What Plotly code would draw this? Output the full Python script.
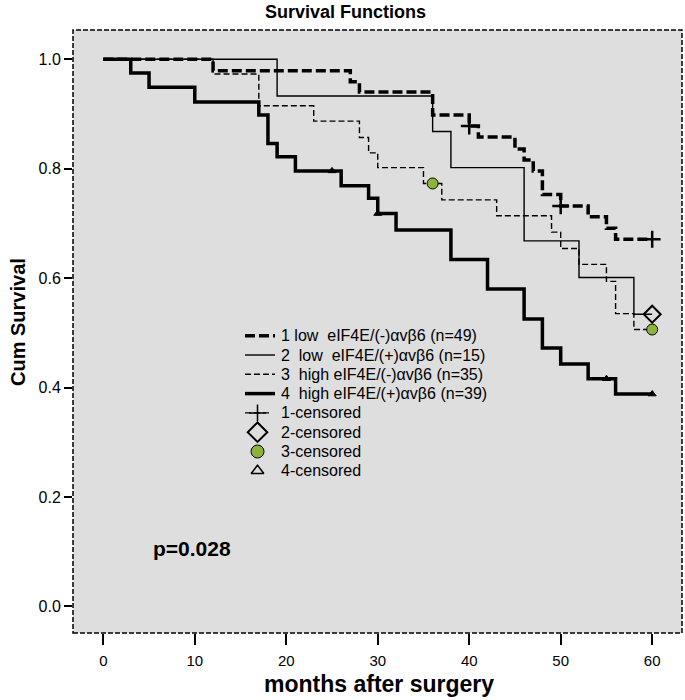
import plotly.graph_objects as go

# ---------------- data ----------------
months_1 = [0, 12, 27, 28, 36, 40, 41, 45, 46, 47, 48, 50, 53, 55, 56, 60]
surv_1 = [1.0, 0.979, 0.959, 0.940, 0.898, 0.878, 0.858, 0.836, 0.816, 0.796,
          0.753, 0.732, 0.712, 0.691, 0.671, 0.671]
cens_months_1 = [40, 50, 60]
cens_surv_1 = [0.878, 0.732, 0.671]

months_2 = [0, 19, 36, 38, 46, 52, 58, 60]
surv_2 = [1.0, 0.933, 0.868, 0.802, 0.668, 0.601, 0.534, 0.534]
cens_months_2 = [60]
cens_surv_2 = [0.534]

months_3 = [0, 12, 17, 23, 28, 29, 30, 35, 37, 43, 49, 50, 52, 55, 56, 58, 60]
surv_3 = [1.0, 0.973, 0.915, 0.887, 0.857, 0.829, 0.802, 0.773, 0.743, 0.714,
          0.684, 0.654, 0.625, 0.594, 0.535, 0.506, 0.506]
cens_months_3 = [36, 60]
cens_surv_3 = [0.773, 0.506]

months_4 = [0, 3, 5, 10, 17, 18, 19, 21, 26, 29, 30, 32, 38, 42, 46, 48, 50, 53, 56, 60]
surv_4 = [1.0, 0.975, 0.949, 0.922, 0.898, 0.846, 0.822, 0.796, 0.769, 0.746,
          0.718, 0.688, 0.634, 0.580, 0.525, 0.472, 0.443, 0.416, 0.388, 0.388]
cens_months_4 = [25, 30, 55, 60]
cens_surv_4 = [0.796, 0.718, 0.416, 0.388]

group_labels = [
    "1 low\u00a0 eIF4E/(-)\u03b1v\u03b26 (n=49)",
    "2\u00a0 low\u00a0 eIF4E/(+)\u03b1v\u03b26 (n=15)",
    "3\u00a0 high eIF4E/(-)\u03b1v\u03b26 (n=35)",
    "4\u00a0 high eIF4E/(+)\u03b1v\u03b26 (n=39)",
]
censor_labels = ["1-censored", "2-censored", "3-censored", "4-censored"]

x_ticks = [0, 10, 20, 30, 40, 50, 60]
y_ticks = [0.0, 0.2, 0.4, 0.6, 0.8, 1.0]

# ---------------- styles ----------------
FONT = "Liberation Sans, Arial, Helvetica, sans-serif"
GREEN = "#8cb43a"
line_styles = [
    dict(color="black", width=3.5, dash="10px,4px"),
    dict(color="black", width=1.4, dash="solid"),
    dict(color="black", width=1.4, dash="6px,3px"),
    dict(color="black", width=3.5, dash="solid"),
]
marker_styles = [
    dict(symbol="cross-thin", size=12, color="black", line=dict(color="black", width=2.5)),
    dict(symbol="diamond-open", size=13, color="black", line=dict(color="black", width=2)),
    dict(symbol="circle", size=11, color=GREEN, line=dict(color="black", width=1)),
    dict(symbol="triangle-up", size=7, color="black", line=dict(color="black", width=1)),
]

W, H = 685, 700
L, R, T, B = 73, 3, 30, 67
PW, PH = W - L - R, H - T - B


def px_x(x):
    return (x - L) / PW


def px_y(y):
    return (H - B - y) / PH


fig = go.Figure()
curves = [(months_1, surv_1), (months_2, surv_2), (months_3, surv_3), (months_4, surv_4)]
cens = [(cens_months_1, cens_surv_1), (cens_months_2, cens_surv_2),
        (cens_months_3, cens_surv_3), (cens_months_4, cens_surv_4)]

for i, (mx, sv) in enumerate(curves):
    fig.add_trace(go.Scatter(x=mx, y=sv, mode="lines", line=dict(shape="hv", **line_styles[i]),
                             showlegend=False, hoverinfo="skip"))
for i, (cx, cy) in enumerate(cens):
    fig.add_trace(go.Scatter(x=cx, y=cy, mode="markers", marker=marker_styles[i],
                             showlegend=False, hoverinfo="skip"))

# ---------------- hand-built legend ----------------
row_y = [335.7 + 19.3 * k for k in range(8)]
sym_x0, sym_x1, text_x = 245, 275, 279
LEG_SIZE = 16
shapes = []
annotations = []
for k in range(4):
    st = line_styles[k]
    shapes.append(dict(type="line", xref="paper", yref="paper",
                       x0=px_x(sym_x0), x1=px_x(sym_x1), y0=px_y(row_y[k]), y1=px_y(row_y[k]),
                       line=dict(color="black", width=st["width"], dash=st["dash"])))
    annotations.append(dict(xref="paper", yref="paper", x=px_x(text_x), y=px_y(row_y[k]),
                            text=group_labels[k], showarrow=False, xanchor="left", yanchor="middle",
                            font=dict(family=FONT, size=LEG_SIZE, color="black")))
shapes.append(dict(type="line", xref="paper", yref="paper",
                   x0=px_x(245), x1=px_x(270), y0=px_y(row_y[4]), y1=px_y(row_y[4]),
                   line=dict(color="black", width=1.4, dash="6px,3px")))
leg_mx = [px_x(257.5)] * 4
leg_my = [px_y(row_y[4 + k]) for k in range(4)]
legend_markers = [
    dict(symbol="cross-thin", size=12, color="black", line=dict(color="black", width=1.5)),
    dict(symbol="diamond-open", size=15, color="black", line=dict(color="black", width=2)),
    dict(symbol="circle", size=13, color=GREEN, line=dict(color="black", width=1)),
    dict(symbol="triangle-up-open", size=11, color="black", line=dict(color="black", width=1.5)),
]
for k in range(4):
    fig.add_trace(go.Scatter(x=[leg_mx[k]], y=[leg_my[k]], mode="markers", marker=legend_markers[k],
                             xaxis="x2", yaxis="y2", showlegend=False, hoverinfo="skip"))
    annotations.append(dict(xref="paper", yref="paper", x=px_x(text_x), y=px_y(row_y[4 + k]),
                            text=censor_labels[k], showarrow=False, xanchor="left", yanchor="middle",
                            font=dict(family=FONT, size=LEG_SIZE, color="black")))

# dashed frame around plot area
shapes.append(dict(type="rect", xref="paper", yref="paper", x0=0, x1=1, y0=0, y1=1,
                   line=dict(color="black", width=1.5, dash="5px,2px"), layer="above"))

# titles / p-value
annotations.append(dict(xref="paper", yref="paper", x=px_x(192), y=px_y(548), text="<b>p=0.028</b>",
                        showarrow=False, xanchor="center", yanchor="middle",
                        font=dict(family=FONT, size=21, color="black")))
annotations.append(dict(xref="paper", yref="paper", x=px_x(379), y=px_y(684),
                        text="<b>months after surgery</b>", showarrow=False,
                        xanchor="center", yanchor="middle", font=dict(family=FONT, size=23, color="black")))
annotations.append(dict(xref="paper", yref="paper", x=px_x(18), y=px_y(322),
                        text="<b>Cum Survival</b>", showarrow=False, textangle=-90,
                        xanchor="center", yanchor="middle", font=dict(family=FONT, size=20, color="black")))
annotations.append(dict(xref="paper", yref="paper", x=px_x(345), y=px_y(12),
                        text="<b>Survival Functions</b>", showarrow=False,
                        xanchor="center", yanchor="middle", font=dict(family=FONT, size=18, color="black")))

# axis ranges derived from pixel calibration
x0_px, x_per = 103.3, 9.148
y0_px, y_per = 606.3, 547.0
x_range = [(L - x0_px) / x_per, (W - R - x0_px) / x_per]
y_range = [(y0_px - (H - B)) / y_per, (y0_px - T) / y_per]

fig.update_layout(
    width=W, height=H,
    margin=dict(l=L, r=R, t=T, b=B),
    paper_bgcolor="white", plot_bgcolor="#dedede",
    font=dict(family=FONT, size=15, color="black"),
    showlegend=False,
    shapes=shapes, annotations=annotations,
    xaxis=dict(range=x_range, tickvals=x_ticks, ticks="outside", ticklen=11, tickwidth=2,
               tickcolor="black", showgrid=False, zeroline=False, showline=False,
               ticklabelstandoff=3,
               tickfont=dict(family=FONT, size=15, color="black"), fixedrange=True),
    yaxis=dict(range=y_range, tickvals=y_ticks, tickformat=".1f", ticks="outside", ticklen=8,
               tickwidth=2, tickcolor="black", showgrid=False, zeroline=False, showline=False,
               tickfont=dict(family=FONT, size=16, color="black"), fixedrange=True),
    xaxis2=dict(overlaying="x", range=[0, 1], visible=False, anchor="y2"),
    yaxis2=dict(overlaying="y", range=[0, 1], visible=False, anchor="x2"),
)

fig.write_html("out.html", config={"displayModeBar": False},
               post_script="document.body.style.margin='0px';")
